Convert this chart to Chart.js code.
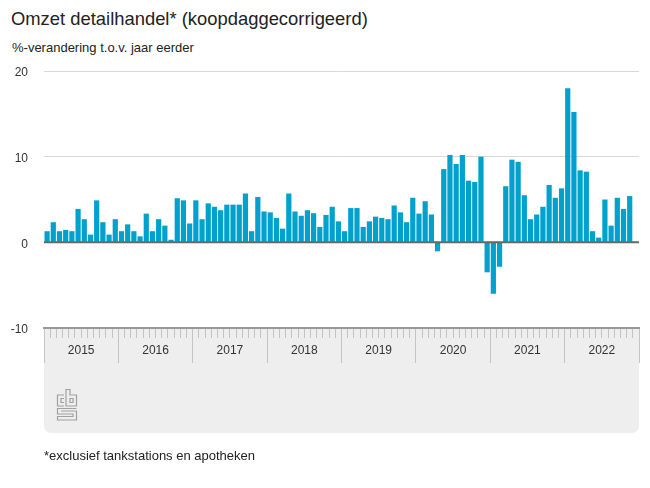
<!DOCTYPE html>
<html>
<head>
<meta charset="utf-8">
<title>Omzet detailhandel</title>
<script src="https://cdn.jsdelivr.net/npm/chart.js@4"></script>
<style>
  html, body { margin: 0; padding: 0; background: #fff; }
  body { width: 650px; height: 488px; position: relative; overflow: hidden; font-family: "Liberation Sans", Arial, sans-serif; color: #222; }
  canvas { position: absolute; left: 0; top: 0; }
  .txt { position: absolute; white-space: nowrap; }
  #title { left: 11px; top: 8px; font-size: 18.4px; line-height: 22px; }
  #sub { left: 12px; top: 40px; font-size: 13px; line-height: 15px; }
  #note { left: 44px; top: 448px; font-size: 13px; line-height: 15px; }
  #logo { position: absolute; left: 56px; top: 388px; }
</style>
</head>
<body>
<div class="txt" id="title">Omzet detailhandel* (koopdaggecorrigeerd)</div>
<div class="txt" id="sub">%-verandering t.o.v. jaar eerder</div>
<canvas id="chart" width="650" height="488"></canvas>
<svg id="logo" width="22" height="33" viewBox="0 0 22 33" fill="none" stroke="#a0a0a0" stroke-width="1.2">
  <path d="M8 7H1.5V18H8M8 10.5H5V14.5H8"/>
  <path d="M10 18V1.5H14V7H20.5V18ZM14 10.5H17V14.5H14Z"/>
  <path d="M20.5 20.5H1.5V26H17V28.5H1.5V32H20.5V23H5"/>
</svg>
<div class="txt" id="note">*exclusief tankstations en apotheken</div>

<script>
  var years = ['2015', '2016', '2017', '2018', '2019', '2020', '2021', '2022'];
  var months = ['jan', 'feb', 'mrt', 'apr', 'mei', 'jun', 'jul', 'aug', 'sep', 'okt', 'nov', 'dec'];

  var values2015 = [1.3, 2.35, 1.3, 1.45, 1.3, 3.9, 2.7, 0.9, 4.9, 2.35, 0.9, 2.7];
  var values2016 = [1.3, 2.1, 1.3, 0.7, 3.35, 1.3, 2.7, 1.95, 0.3, 5.15, 4.9, 2.2];
  var values2017 = [4.9, 2.7, 4.55, 4.15, 3.75, 4.4, 4.4, 4.4, 5.7, 1.3, 5.3, 3.6];
  var values2018 = [3.5, 2.85, 1.6, 5.7, 3.6, 3.1, 3.75, 3.4, 1.8, 3.2, 4.15, 2.45];
  var values2019 = [1.3, 4.0, 4.0, 1.8, 2.45, 3.0, 2.85, 2.7, 4.3, 3.5, 2.35, 5.2];
  var values2020 = [3.35, 4.8, 3.25, -1.05, 8.55, 10.2, 9.15, 10.2, 7.2, 7.05, 10.0, -3.5];
  var values2021 = [-6.0, -2.85, 6.55, 9.65, 9.4, 5.5, 2.7, 3.25, 4.15, 6.7, 5.2, 6.3];
  var values2022 = [18.0, 15.2, 8.4, 8.25, 1.3, 0.55, 5.0, 1.95, 5.2, 3.9, 5.4, null];

  var values = [].concat(values2015, values2016, values2017, values2018, values2019, values2020, values2021, values2022);

  var labels = [];
  years.forEach(function(year) {
    months.forEach(function(month) {
      labels.push(month + ' ' + year);
    });
  });

  // grey band under the plot, and the zero line on top of the bars
  var bandPlugin = {
    id: 'band',
    beforeDraw: function(chart) {
      var ctx = chart.ctx, area = chart.chartArea;
      ctx.save();
      ctx.fillStyle = '#eeeeee';
      ctx.beginPath();
      ctx.roundRect(area.left, area.bottom, area.right - area.left, 433 - area.bottom, [0, 0, 7, 7]);
      ctx.fill();
      ctx.restore();
    },
    afterDatasetsDraw: function(chart) {
      var ctx = chart.ctx, area = chart.chartArea;
      var zero = chart.scales.y.getPixelForValue(0);
      ctx.save();
      ctx.strokeStyle = '#666666';
      ctx.lineWidth = 2;
      ctx.beginPath();
      ctx.moveTo(area.left, zero);
      ctx.lineTo(area.right, zero);
      ctx.stroke();
      ctx.restore();
    }
  };

  new Chart(document.getElementById('chart'), {
    type: 'bar',
    data: {
      labels: labels,
      datasets: [{
        data: values,
        backgroundColor: '#00a1cd',
        borderWidth: 0,
        barPercentage: 0.84,
        categoryPercentage: 1
      }]
    },
    plugins: [bandPlugin],
    options: {
      responsive: false,
      animation: false,
      layout: { padding: { top: 71, right: 11, bottom: 125, left: 0 } },
      plugins: { legend: { display: false }, tooltip: { enabled: false } },
      scales: {
        y: {
          min: -10,
          max: 20,
          ticks: { stepSize: 10, padding: 16, labelOffset: 2, color: '#333', font: { family: 'Liberation Sans', size: 12 } },
          border: { display: false },
          grid: {
            drawTicks: false,
            lineWidth: 1,
            color: function(c) { return c.tick.value === -10 ? 'transparent' : '#d8d8d8'; }
          },
          afterFit: function(scale) { scale.width = 44; }
        },
        x: {
          weight: 0,
          offset: true,
          ticks: { display: false, autoSkip: false },
          border: { display: true, color: '#999999', width: 2 },
          grid: { offset: true, drawOnChartArea: false, tickLength: 10, tickColor: '#c4c4c4', tickWidth: 1 },
          afterFit: function(scale) { scale.height = 10; }
        },
        x2: {
          type: 'category',
          axis: 'x',
          position: 'bottom',
          weight: 1,
          labels: years,
          offset: true,
          ticks: { padding: -20, autoSkip: false, maxRotation: 0, color: '#333', font: { family: 'Liberation Sans', size: 12 } },
          border: { display: false },
          grid: { offset: true, drawOnChartArea: false, tickLength: 25, tickColor: '#c4c4c4', tickWidth: 1 },
          afterFit: function(scale) { scale.height = 25; }
        }
      }
    }
  });
</script>
</body>
</html>
